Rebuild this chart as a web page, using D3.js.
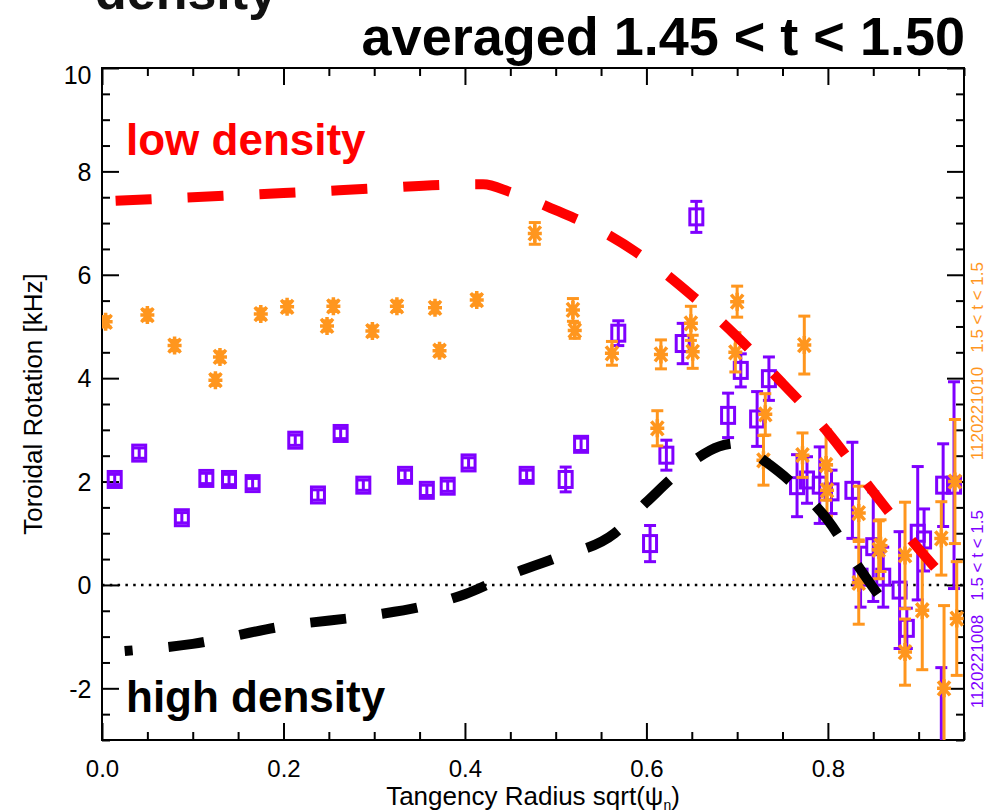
<!DOCTYPE html>
<html>
<head>
<meta charset="utf-8">
<script src="https://cdn.jsdelivr.net/npm/d3@7"></script>
<style>
  html, body { margin: 0; padding: 0; background: #fff; }
  svg { display: block; font-family: "Liberation Sans", Arial, Helvetica, sans-serif; }
</style>
</head>
<body>
<svg id="chart"></svg>
<script>
// shot 1120221008 (purple squares): radius, rotation [kHz], error
const purpleX = [0.014, 0.041, 0.088, 0.115, 0.140, 0.166, 0.213, 0.238, 0.263, 0.288, 0.334, 0.358, 0.381, 0.404,
  0.468, 0.511, 0.528, 0.569, 0.604, 0.622, 0.640, 0.655, 0.690, 0.704, 0.722, 0.735, 0.766, 0.777, 0.791, 0.804,
  0.827, 0.836, 0.850, 0.861, 0.879, 0.887, 0.899, 0.906, 0.927, 0.925, 0.939];
const purpleY = [2.04, 2.55, 1.30, 2.06, 2.04, 1.96, 2.80, 1.74, 2.93, 1.93, 2.12, 1.83, 1.91, 2.36,
  2.12, 2.04, 2.72, 4.87, 0.80, 2.51, 4.67, 7.12, 3.28, 4.15, 3.21, 3.99, 1.92, 2.03, 1.93, 1.80,
  1.83, 0.15, 0.74, 0.15, -0.10, -0.84, 1.00, 0.87, 1.93, -3.30, 1.93];
const purpleErr = [0.1, 0.1, 0.1, 0.1, 0.1, 0.1, 0.1, 0.1, 0.1, 0.1, 0.1, 0.1, 0.1, 0.1,
  0.1, 0.24, 0.12, 0.24, 0.35, 0.29, 0.39, 0.30, 0.43, 0.32, 0.53, 0.42, 0.60, 0.45, 0.74, 0.42,
  0.93, 0.58, 1.06, 0.58, 1.13, 0.39, 1.29, 0.60, 0.80, 1.70, 2.00];

// shot 1120221010 (orange asterisks)
const orangeX = [0.004, 0.050, 0.080, 0.125, 0.130, 0.175, 0.204, 0.248, 0.255, 0.298, 0.325, 0.367, 0.372, 0.413,
  0.477, 0.519, 0.521, 0.562, 0.612, 0.616, 0.649, 0.651, 0.698, 0.700, 0.729, 0.731, 0.772, 0.774, 0.798, 0.799,
  0.834, 0.834, 0.856, 0.858, 0.885, 0.885, 0.904, 0.925, 0.928, 0.940, 0.942];
const orangeY = [5.09, 5.22, 4.63, 3.96, 4.41, 5.24, 5.38, 5.01, 5.39, 4.91, 5.39, 5.36, 4.53, 5.51,
  6.80, 5.32, 4.92, 4.48, 3.03, 4.46, 5.06, 4.51, 4.50, 5.48, 2.41, 3.30, 2.51, 4.64, 2.32, 1.83,
  1.39, 0.04, 0.68, 0.76, 0.57, -1.30, -0.49, 0.90, -2.00, 2.00, -0.65];
const orangeErr = [0.1, 0.1, 0.1, 0.1, 0.1, 0.1, 0.1, 0.1, 0.1, 0.1, 0.1, 0.1, 0.1, 0.1,
  0.21, 0.22, 0.15, 0.23, 0.34, 0.28, 0.33, 0.32, 0.38, 0.30, 0.48, 0.40, 0.43, 0.56, 0.68, 0.50,
  0.52, 0.80, 0.56, 0.50, 1.03, 0.64, 1.15, 0.71, 1.60, 1.20, 1.10];

// model profiles
const lowDensX = [0.015, 0.1, 0.2, 0.3, 0.38, 0.42, 0.45, 0.5, 0.55, 0.6, 0.65, 0.7, 0.75, 0.8, 0.85, 0.9, 0.925];
const lowDensY = [7.43, 7.50, 7.58, 7.67, 7.74, 7.75, 7.60, 7.25, 6.85, 6.30, 5.60, 4.80, 3.90, 2.95, 1.80, 0.70, 0.20];
const highDensX = [0.025, 0.1, 0.2, 0.3, 0.35, 0.4, 0.45, 0.5, 0.565, 0.6, 0.65, 0.68, 0.7, 0.73, 0.76, 0.8, 0.83, 0.862];
const highDensY = [-1.28, -1.14, -0.80, -0.58, -0.43, -0.18, 0.20, 0.52, 1.00, 1.60, 2.38, 2.68, 2.74, 2.40, 1.98, 1.25, 0.45, -0.35];

const xTicks = [0, 0.2, 0.4, 0.6, 0.8];
const xTickLabels = ['0.0', '0.2', '0.4', '0.6', '0.8'];
const yTicks = [-2, 0, 2, 4, 6, 8, 10];

const width = 992, height = 811;
const purple = '#7f00ff', orange = '#ff961e';

const svg = d3.select('#chart')
  .attr('width', width)
  .attr('height', height);

const x = d3.scaleLinear().domain([0, 0.95]).range([102, 964]);
const y = d3.scaleLinear().domain([-3, 10]).range([740, 68]);

const xMinor = d3.range(0, 0.951, 0.05).filter(v => Math.abs(v * 5 - Math.round(v * 5)) > 1e-6);
const yMinor = d3.range(-3, 10.01, 0.5).filter(v => v % 2 !== 0);

svg.append('defs').append('clipPath').attr('id', 'plot-clip')
  .append('rect')
    .attr('x', x(0)).attr('y', y(10))
    .attr('width', x(0.95) - x(0)).attr('height', y(-3) - y(10));

// axes: major + minor ticks on all four sides, pointing inward
function tickAxis(axisFn, scale, pos, values, size, labels) {
  const ax = axisFn(scale).tickValues(values).tickSize(size).tickPadding(8);
  ax.tickFormat(labels ? (d, i) => labels[i] : () => '');
  return svg.append('g').attr('transform', pos).call(ax).call(g => g.select('.domain').remove());
}
const bottomPos = `translate(0,${y(-3)})`, topPos = `translate(0,${y(10)})`;
const leftPos = `translate(${x(0)},0)`, rightPos = `translate(${x(0.95)},0)`;

const xAx = tickAxis(d3.axisBottom, x, bottomPos, xTicks, -17, xTickLabels);
tickAxis(d3.axisBottom, x, bottomPos, xMinor, -8);
tickAxis(d3.axisTop, x, topPos, xTicks, -17);
tickAxis(d3.axisTop, x, topPos, xMinor, -8);
const yAx = tickAxis(d3.axisLeft, y, leftPos, yTicks, -17, yTicks.map(String));
tickAxis(d3.axisLeft, y, leftPos, yMinor, -8);
tickAxis(d3.axisRight, y, rightPos, yTicks, -17);
tickAxis(d3.axisRight, y, rightPos, yMinor, -8);

svg.selectAll('.tick line').attr('stroke', '#000').attr('stroke-width', 2);
xAx.selectAll('text').attr('font-size', 24).attr('fill', '#000').attr('dy', '1.2em');
yAx.selectAll('text').attr('font-size', 25).attr('fill', '#000').attr('dx', '-0.1em')
  .attr('dy', d => d === 10 ? '0.6em' : '0.35em');

svg.append('rect')
  .attr('x', x(0)).attr('y', y(10))
  .attr('width', x(0.95) - x(0)).attr('height', y(-3) - y(10))
  .attr('fill', 'none').attr('stroke', '#000').attr('stroke-width', 2);

const plot = svg.append('g').attr('clip-path', 'url(#plot-clip)');

// zero line
plot.append('line')
  .attr('x1', x(0)).attr('x2', x(0.95))
  .attr('y1', y(0)).attr('y2', y(0))
  .attr('stroke', '#000').attr('stroke-width', 2.5)
  .attr('stroke-dasharray', '2.5,5.3');

// error bars
function errorBars(xs, ys, es, color) {
  const g = plot.append('g').attr('stroke', color).attr('stroke-width', 3).attr('fill', 'none');
  const pts = xs.map((v, i) => ({ x: v, y: ys[i], e: es[i] }));
  const bars = g.selectAll('g').data(pts).join('g');
  bars.append('line')
    .attr('x1', d => x(d.x)).attr('x2', d => x(d.x))
    .attr('y1', d => y(d.y - d.e)).attr('y2', d => y(d.y + d.e));
  bars.append('line')
    .attr('x1', d => x(d.x) - 6).attr('x2', d => x(d.x) + 6)
    .attr('y1', d => y(d.y + d.e)).attr('y2', d => y(d.y + d.e));
  bars.append('line')
    .attr('x1', d => x(d.x) - 6).attr('x2', d => x(d.x) + 6)
    .attr('y1', d => y(d.y - d.e)).attr('y2', d => y(d.y - d.e));
  return bars;
}

const pBars = errorBars(purpleX, purpleY, purpleErr, purple);
pBars.append('rect')
  .attr('x', d => x(d.x) - 6.5).attr('y', d => y(d.y) - 8)
  .attr('width', 13).attr('height', 16);

const oBars = errorBars(orangeX, orangeY, orangeErr, orange);
oBars.append('path')
  .attr('transform', d => `translate(${x(d.x)},${y(d.y)})`)
  .attr('stroke-width', 3.5)
  .attr('d', 'M-7,0H7M0,-9V9M-6,-7L6,7M-6,7L6,-7');

// model curves
const line = d3.line().x(d => x(d[0])).y(d => y(d[1])).curve(d3.curveMonotoneX);

plot.append('path')
  .datum(lowDensX.map((v, i) => [v, lowDensY[i]]))
  .attr('d', line)
  .attr('fill', 'none').attr('stroke', '#ff0000').attr('stroke-width', 10)
  .attr('stroke-dasharray', '36,36');

plot.append('path')
  .datum(highDensX.map((v, i) => [v, highDensY[i]]))
  .attr('d', line)
  .attr('fill', 'none').attr('stroke', '#000').attr('stroke-width', 10)
  .attr('stroke-dasharray', '36,36').attr('stroke-dashoffset', 28);

// annotations
svg.append('text').attr('x', 126).attr('y', 155)
  .attr('font-size', 44).attr('font-weight', 'bold').attr('fill', '#ff0000')
  .text('low density');
svg.append('text').attr('x', 126).attr('y', 712)
  .attr('font-size', 44).attr('font-weight', 'bold').attr('fill', '#000')
  .text('high density');

// titles
svg.append('text').attr('x', 95).attr('y', 9)
  .attr('font-size', 52).attr('font-weight', 'bold').attr('fill', '#111')
  .text('density');
svg.append('text').attr('x', 965).attr('y', 55).attr('text-anchor', 'end')
  .attr('font-size', 54).attr('font-weight', 'bold').attr('fill', '#000')
  .text('averaged 1.45 < t < 1.50');

// axis titles
const xTitle = svg.append('text').attr('x', 533).attr('y', 805).attr('text-anchor', 'middle')
  .attr('font-size', 26).attr('fill', '#000');
xTitle.append('tspan').text('Tangency Radius sqrt(ψ');
xTitle.append('tspan').attr('font-size', 14).attr('dy', 5).text('n');
xTitle.append('tspan').attr('dy', -5).text(')');

svg.append('text')
  .attr('transform', `translate(42,${(y(10) + y(-3)) / 2}) rotate(-90)`)
  .attr('text-anchor', 'middle').attr('font-size', 26).attr('fill', '#000')
  .text('Toroidal Rotation [kHz]');

// shot labels on the right
svg.append('text')
  .attr('transform', 'translate(983,262) rotate(-90)')
  .attr('text-anchor', 'end').attr('font-size', 17).attr('fill', orange)
  .style('white-space', 'pre')
  .text('1120221010   1.5 < t < 1.5');
svg.append('text')
  .attr('transform', 'translate(983,510) rotate(-90)')
  .attr('text-anchor', 'end').attr('font-size', 17).attr('fill', purple)
  .style('white-space', 'pre')
  .text('1120221008   1.5 < t < 1.5');
</script>
</body>
</html>
